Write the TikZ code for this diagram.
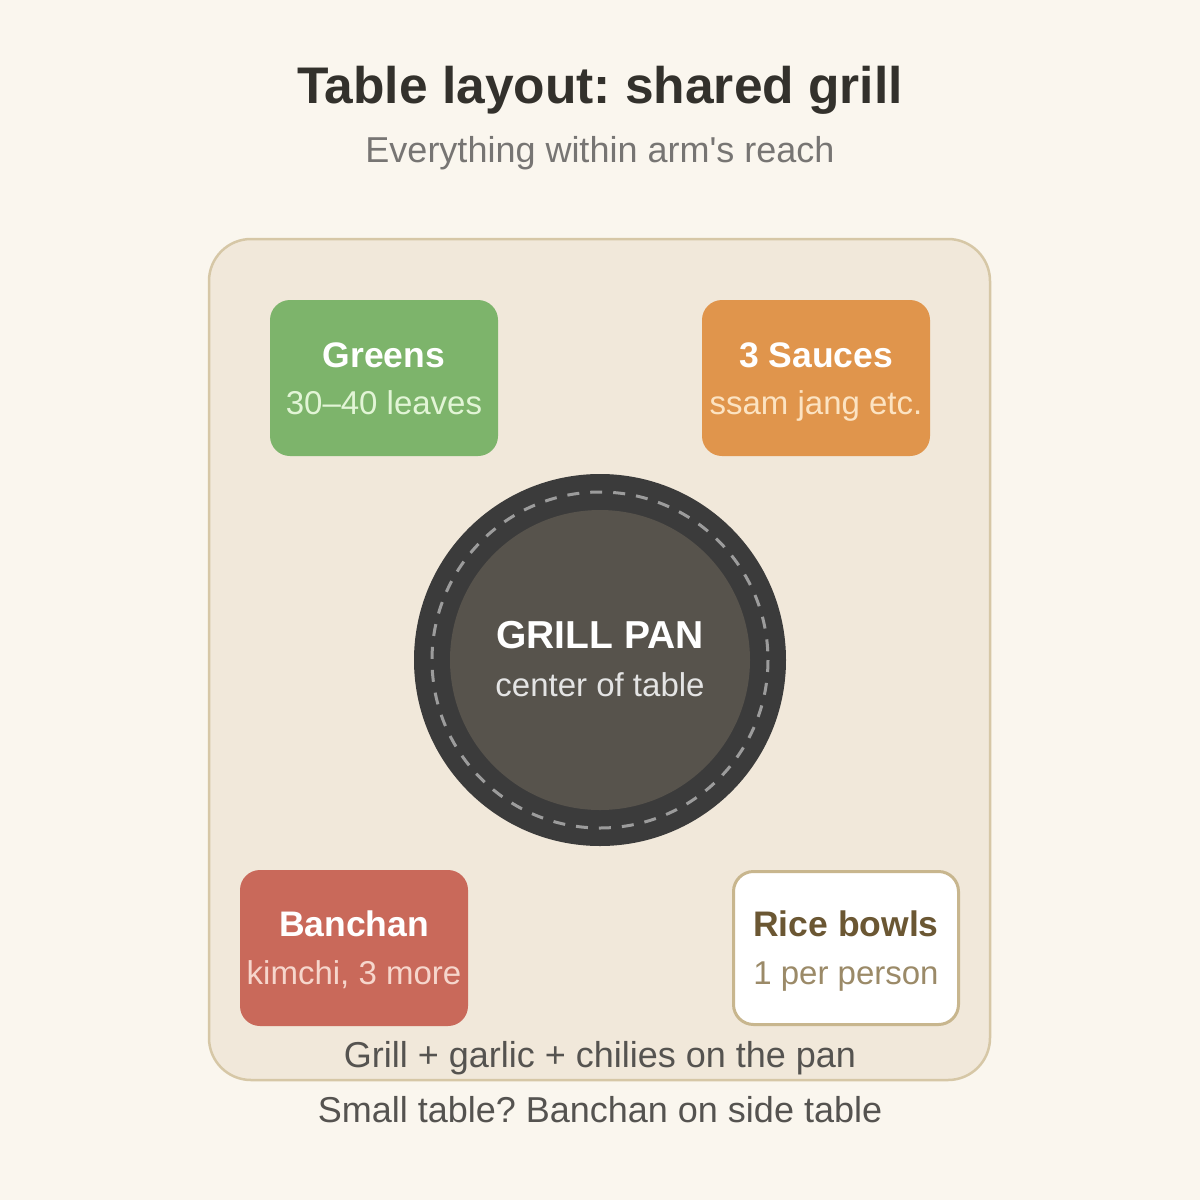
\documentclass[tikz,border=0pt]{standalone}
\usepackage{fontspec}
\setmainfont{Liberation Sans}[Ligatures=TeXOff]
\frenchspacing
\definecolor{bg}{HTML}{FAF6EE}
\definecolor{tablefill}{HTML}{F1E8DA}
\definecolor{tableline}{HTML}{D6C7A6}
\definecolor{greenbox}{HTML}{7DB46B}
\definecolor{greensub}{HTML}{E2F5D6}
\definecolor{saucebox}{HTML}{E0954C}
\definecolor{saucesub}{HTML}{FCE3C2}
\definecolor{banbox}{HTML}{C9695A}
\definecolor{bansub}{HTML}{F6D6CC}
\definecolor{riceline}{HTML}{C8B68E}
\definecolor{ricetitle}{HTML}{6B5733}
\definecolor{ricesub}{HTML}{9B8A68}
\definecolor{grillout}{HTML}{3B3B3B}
\definecolor{grillin}{HTML}{57534C}
\definecolor{dashcol}{HTML}{9C9C9C}
\definecolor{titlecol}{HTML}{33312C}
\definecolor{subcol}{HTML}{777573}
\definecolor{notecol}{HTML}{555350}
\definecolor{grillsub}{HTML}{E4E4E4}
\tikzset{
  itembox/.style={rounded corners=20pt, minimum width=228pt, minimum height=156pt, inner sep=0pt, draw=none},
  boxtitle/.style={anchor=base, font=\fontsize{35.5}{42}\selectfont\bfseries, inner sep=0pt},
  boxsub/.style={anchor=base, font=\fontsize{33}{40}\selectfont, inner sep=0pt},
  notetext/.style={anchor=base, font=\fontsize{36}{42}\selectfont, text=notecol, inner sep=0pt}
}
\begin{document}
\begin{tikzpicture}[x=1pt,y=-1pt]
\useasboundingbox (0,0) rectangle (1200,1200);
\fill[bg] (0,0) rectangle (1200,1200);
% title
\node[anchor=base, font=\fontsize{51.5}{60}\selectfont\bfseries, text=titlecol, inner sep=0pt] (title) at (600,103) {Table layout: shared grill};
\node[anchor=base, font=\fontsize{36}{42}\selectfont, text=subcol, inner sep=0pt] (subtitle) at (600,162) {Everything within arm's reach};
% table
\draw[fill=tablefill, draw=tableline, line width=2.5pt, rounded corners=42pt] (209,239) rectangle (990,1080);
\node[draw=none, inner sep=0pt, minimum size=0pt] (table) at (600,660) {};
% greens
\node[itembox, fill=greenbox] (greens) at (384,378) {};
\node[boxtitle, text=white] (greensT) at (384,367) {Greens};
\node[boxsub, text=greensub] (greensS) at (384,414) {30–40 leaves};
% sauces
\node[itembox, fill=saucebox] (sauces) at (816,378) {};
\node[boxtitle, text=white] (saucesT) at (816,367) {3 Sauces};
\node[boxsub, text=saucesub] (saucesS) at (816,414) {ssam jang etc.};
% banchan
\node[itembox, fill=banbox] (banchan) at (354,948) {};
\node[boxtitle, text=white] (banchanT) at (354,936) {Banchan};
\node[boxsub, text=bansub] (banchanS) at (354,984) {kimchi, 3 more};
% rice
\node[itembox, fill=white, draw=riceline, line width=3pt, minimum width=225pt, minimum height=153pt] (rice) at (846,948) {};
\node[boxtitle, text=ricetitle] (riceT) at (846,936) {Rice bowls};
\node[boxsub, text=ricesub] (riceS) at (846,984) {1 per person};
% grill
\node[circle, fill=grillout, minimum size=372pt, inner sep=0pt] (grillouter) at (600,660) {};
\node[circle, fill=grillin, minimum size=300pt, inner sep=0pt] (grillinner) at (600,660) {};
\draw[dashcol, line width=3pt, dash pattern=on 12pt off 11pt] (grillouter.center) circle[radius=168];
\node[anchor=base, font=\fontsize{39}{44}\selectfont\bfseries, text=white, inner sep=0pt] (grillT) at (600,648) {GRILL PAN};
\node[anchor=base, font=\fontsize{33}{40}\selectfont, text=grillsub, inner sep=0pt] (grillS) at (600,696) {center of table};
% notes
\node[notetext] (note1) at (600,1067) {Grill + garlic + chilies on the pan};
\node[notetext] (note2) at (600,1122) {Small table? Banchan on side table};
\end{tikzpicture}
\end{document}
